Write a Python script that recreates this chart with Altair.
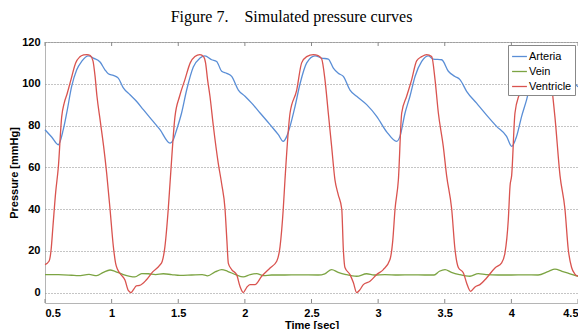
import altair as alt
import pandas as pd

# ---- data ----
ventricle_t = [0.50, 0.53, 0.545, 0.56, 0.58, 0.60, 0.625, 0.645, 0.665, 0.695, 0.73, 0.76, 0.79, 0.815,
               0.84, 0.86, 0.875, 0.89, 0.915, 0.94, 0.963, 0.988, 1.013, 1.03, 1.045, 1.07, 1.10, 1.125,
               1.145, 1.165, 1.185, 1.21, 1.26, 1.31, 1.36, 1.38, 1.40, 1.425, 1.44, 1.475, 1.51, 1.55,
               1.59, 1.625, 1.663, 1.69, 1.705, 1.72, 1.738, 1.763, 1.80, 1.826, 1.851, 1.865, 1.876,
               1.901, 1.938, 1.963, 1.988, 2.013, 2.038, 2.076, 2.126, 2.189, 2.239, 2.264, 2.288, 2.301,
               2.339, 2.389, 2.426, 2.464, 2.514, 2.55, 2.576, 2.601, 2.626, 2.651, 2.676, 2.70, 2.727,
               2.739, 2.751, 2.789, 2.814, 2.839, 2.864, 2.889, 2.939, 2.989, 3.039, 3.089, 3.11, 3.127,
               3.152, 3.177, 3.214, 3.252, 3.289, 3.327, 3.364, 3.402, 3.427, 3.452, 3.489, 3.514, 3.552,
               3.577, 3.602, 3.64, 3.664, 3.694, 3.727, 3.764, 3.814, 3.877, 3.927, 3.952, 3.977, 3.99,
               4.002, 4.027, 4.06, 4.10, 4.14, 4.175, 4.216, 4.25, 4.27, 4.29, 4.327, 4.365, 4.402, 4.427,
               4.452, 4.475, 4.50]
ventricle_p = [13.4, 15, 20, 32, 48, 60, 84, 91, 95, 102, 110, 112.8, 113.8, 114,
               113.5, 111, 104, 94, 82, 70, 57, 40, 22, 14, 11, 8.6, 6, 1,
               0, 1.5, 3.2, 3.4, 6, 10, 13, 15, 22, 40, 54, 84, 94, 102,
               110, 113, 114, 113, 110, 102, 94, 80, 62, 52, 40, 25, 14,
               11, 8.6, 3, 0, 2.4, 3.8, 3.8, 7.8, 11.8, 15, 22, 40, 54,
               86, 97, 110, 113, 114, 113.5, 112, 102, 86, 70, 54, 47, 40,
               20.6, 12, 8.6, 4.8, 0, 1.4, 3.8, 5.4, 8.6, 11, 15.8, 25, 40,
               54, 86, 94, 102, 111, 113, 114, 113, 102, 86, 70, 56, 40,
               20.6, 12, 9.4, 4.6, 0.6, 2.7, 3.8, 7, 11.8, 14.2, 19, 35, 51,
               56, 86, 95, 102, 110, 113, 114, 113.5, 111, 105, 84, 56, 40, 20.6,
               12, 9, 7.8]

arteria_t = [0.50, 0.55, 0.60, 0.637, 0.663, 0.70, 0.738, 0.775, 0.825, 0.863, 0.913, 0.95, 0.975,
             1.013, 1.05, 1.088, 1.138, 1.188, 1.238, 1.30, 1.363, 1.438, 1.463, 1.488, 1.525, 1.563,
             1.613, 1.663, 1.70, 1.751, 1.788, 1.826, 1.864, 1.901, 1.951, 2.001, 2.051, 2.114, 2.189,
             2.251, 2.288, 2.314, 2.339, 2.376, 2.414, 2.464, 2.526, 2.576, 2.626, 2.664, 2.701, 2.739,
             2.789, 2.839, 2.914, 2.989, 3.064, 3.139, 3.164, 3.202, 3.239, 3.277, 3.327, 3.377, 3.414,
             3.477, 3.527, 3.577, 3.614, 3.664, 3.739, 3.814, 3.889, 3.964, 4.002, 4.039, 4.077, 4.114,
             4.16, 4.20, 4.24, 4.29, 4.33, 4.37, 4.41, 4.45, 4.50]
arteria_p = [78, 74.5, 70.8, 78, 86, 98.7, 106.7, 110.7, 113.4, 112.3, 110.4, 106.7, 104.8,
             104, 102.7, 98, 94.7, 91.5, 87.6, 82.8, 78, 71.6, 73.2, 78, 86, 97,
             108, 112.3, 113.4, 111.5, 110.7, 106, 105, 103.5, 97, 94, 90.7, 86, 80.4,
             75.6, 72.4, 74.8, 79.6, 89, 100, 110, 113.4, 112.3, 111.8, 107.5, 105, 103.5,
             97, 94, 90, 84.4, 77, 72.4, 74.8, 86, 94, 103.5, 110.7, 113.4, 111.8,
             111.5, 106, 103.5, 102, 96.4, 90.7, 85, 79.6, 74.8, 70, 74.8, 84.4, 92.3,
             104, 110.5, 113.2, 111.5, 110.8, 107, 104.5, 102, 98.5]

vein_t = [0.50, 0.60, 0.70, 0.75, 0.83, 0.888, 0.938, 0.988, 1.025, 1.088, 1.175, 1.226, 1.276, 1.33,
          1.388, 1.45, 1.513, 1.60, 1.68, 1.72, 1.78, 1.826, 1.87, 1.93, 1.988, 2.04, 2.088, 2.14,
          2.20, 2.30, 2.40, 2.55, 2.60, 2.651, 2.70, 2.76, 2.839, 2.914, 2.97, 3.05, 3.15, 3.25,
          3.35, 3.42, 3.46, 3.502, 3.55, 3.61, 3.689, 3.752, 3.81, 3.90, 4.00, 4.10, 4.20, 4.28,
          4.327, 4.38, 4.44, 4.50]
vein_p = [8.6, 8.6, 8.3, 8.1, 8.7, 8.1, 9.7, 10.8, 10.2, 8.6, 7.5, 9.1, 9.0, 8.6,
          9.0, 8.6, 8.2, 8.4, 8.6, 8.0, 10.0, 11, 10.2, 8.6, 7.5, 8.6, 9.1, 8.1,
          8.4, 8.4, 8.5, 8.4, 9.0, 11, 9.7, 8.6, 7.8, 9, 8.4, 8.6, 8.4, 8.5,
          8.4, 8.4, 10.2, 11, 9.7, 8.6, 7.8, 9.1, 8.6, 8.4, 8.4, 8.5, 8.4, 10.2,
          11.2, 10.2, 9, 7.8]

series_names = ["Arteria", "Vein", "Ventricle"]
series_colors = ["#5a8ed6", "#7ca443", "#d9534f"]
x_ticks = [0.5, 1, 1.5, 2, 2.5, 3, 3.5, 4, 4.5]
y_ticks = [0, 20, 40, 60, 80, 100, 120]

frames = []
for name, ts, ps in [("Arteria", arteria_t, arteria_p), ("Vein", vein_t, vein_p),
                     ("Ventricle", ventricle_t, ventricle_p)]:
    frames.append(pd.DataFrame({"t": ts, "p": ps, "series": name}))
df = pd.concat(frames, ignore_index=True)
ticks_df = pd.DataFrame({"t": x_ticks})

W, H = 533, 261

x_scale = alt.Scale(domain=[0.5, 4.5], nice=False, zero=False)
y_scale = alt.Scale(domain=[-5, 120], nice=False, zero=False)

lines = alt.Chart(df).mark_line(strokeWidth=1.3, interpolate="monotone").encode(
    x=alt.X("t:Q", scale=x_scale,
            axis=alt.Axis(title="Time [sec]", values=x_ticks, format="~g", grid=False,
                          domain=False, ticks=False, labelPadding=4, titlePadding=1)),
    y=alt.Y("p:Q", scale=y_scale,
            axis=alt.Axis(title="Pressure [mmHg]", values=y_ticks, grid=True,
                          gridDash=[1, 2], gridColor="#8a8a8a", gridWidth=1,
                          domain=False, ticks=False, labelPadding=5, titlePadding=2)),
    color=alt.Color("series:N",
                    scale=alt.Scale(domain=series_names, range=series_colors),
                    legend=alt.Legend(title=None, orient="top-right", offset=3,
                                      symbolType="stroke", symbolSize=220, symbolStrokeWidth=1.3,
                                      labelFont="Liberation Sans", labelFontSize=11,
                                      labelColor="black", rowPadding=1, padding=3,
                                      strokeColor="#888888", fillColor="white",
                                      labelOffset=1)),
)

tick_bottom = alt.Chart(ticks_df).mark_rule(color="#888888", strokeWidth=1).encode(
    x=alt.X("t:Q", scale=x_scale), y=alt.value(H), y2=alt.value(H - 4))
tick_top = alt.Chart(ticks_df).mark_rule(color="#888888", strokeWidth=1).encode(
    x=alt.X("t:Q", scale=x_scale), y=alt.value(0), y2=alt.value(4))

chart = alt.layer(lines, tick_bottom, tick_top).properties(
    width=W, height=H,
    title=alt.TitleParams(text="Figure 7.\u00a0\u00a0\u00a0\u00a0Simulated pressure curves",
                          font="Liberation Serif", fontSize=16, fontWeight="normal",
                          color="black", anchor="middle", offset=11, dx=-20),
    autosize=alt.AutoSizeParams(type="none"),
    padding={"left": 37, "top": 34, "right": 0, "bottom": 26},
).configure_view(stroke="#b5b5b5", strokeWidth=1).configure_axis(
    labelFont="Liberation Sans", labelFontSize=11, labelFontWeight="bold", labelColor="black",
    titleFont="Liberation Sans", titleFontSize=11, titleFontWeight="bold", titleColor="black",
)

chart.save("out.html", embed_options={"renderer": "svg", "actions": False})
